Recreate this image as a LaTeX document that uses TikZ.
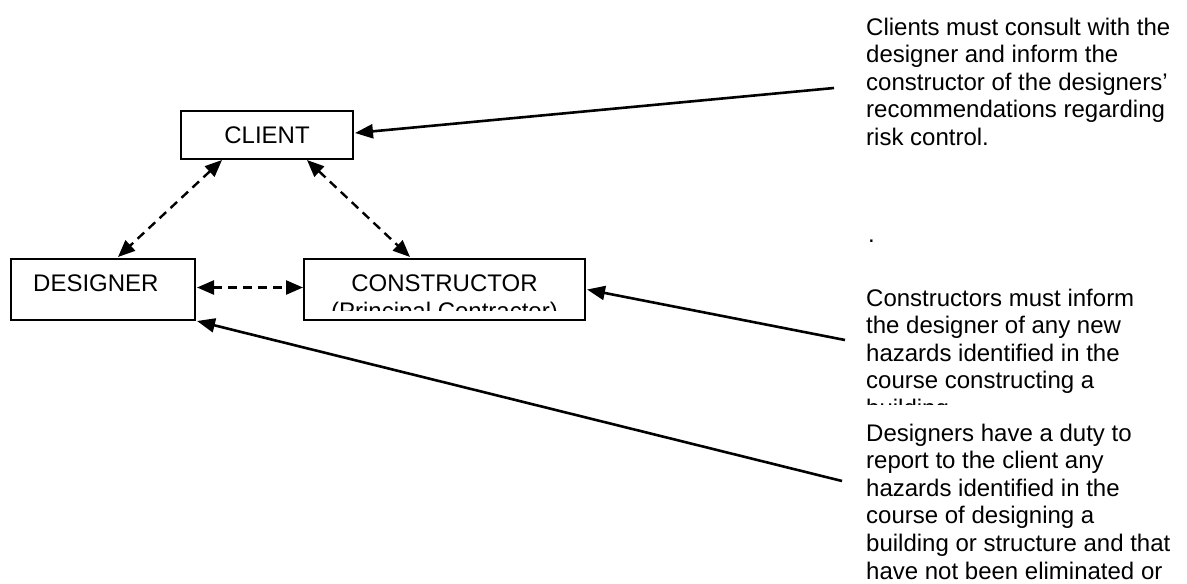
\documentclass[tikz,border=0pt]{standalone}
\usepackage{fontspec}
\setmainfont{Liberation Sans}
\usetikzlibrary{arrows.meta}

\begin{document}
\begin{tikzpicture}[x=1pt,y=-1pt,
  role/.style={draw,line width=2pt,inner sep=0pt,outer sep=0pt,font=\fontsize{24}{27.6}\selectfont},
  link/.style={line width=2.4pt,dash pattern=on 9pt off 6pt,{Triangle[length=17pt,width=14pt]}-{Triangle[length=17pt,width=14pt]}},
  duty/.style={line width=2.6pt,-{Triangle[length=18pt,width=14pt]}},
  note/.style={anchor=base west,align=left,inner sep=0pt,font=\fontsize{24}{27.6}\selectfont}]
\useasboundingbox (0,0) rectangle (1187,584);
% the three parties
\node[role,minimum width=172pt,minimum height=48pt] (client) at (267,135) {CLIENT};
\node[role,minimum width=184pt,minimum height=61pt] (designer) at (103,289.5) {};
\node[role,minimum width=281pt,minimum height=61pt] (constructor) at (444.5,289.5) {};
\node[note] (designertext) at (33,291.6) {DESIGNER};
\begin{scope}
\clip (305,260) rectangle (584,310);
\node[note,anchor=base,align=center] (constructortext) at (444.5,319.2) {CONSTRUCTOR\\(Principal Contractor)};
\end{scope}
% duties
\node[note] (clientnote) at (866,145.4) {Clients must consult with the\\designer and inform the\\constructor of the designers'\\recommendations regarding\\risk control.};
\node[note] (dotnote) at (868,242) {.};
\begin{scope}
\clip (850,250) rectangle (1187,404);
\node[note] (constructornote) at (866,416.4) {Constructors must inform\\the designer of any new\\hazards identified in the\\course constructing a\\building};
\end{scope}
\node[note] (designernote) at (866,579) {Designers have a duty to\\report to the client any\\hazards identified in the\\course of designing a\\building or structure and that\\have not been eliminated or};
\coordinate (clientend) at (834,88);
\coordinate (constructorend) at (845,340);
\coordinate (designerend) at (842,481);
\draw[duty] (clientend) -- ([xshift=2pt,yshift=2pt]client.east);
\draw[duty] (constructorend) -- ([xshift=2pt]constructor.east);
\draw[duty] (designerend) -- ([xshift=2pt,yshift=-1pt]designer.south east);
% communication between parties
\draw[link] ([xshift=41pt,yshift=-1pt]client.south west) -- ([xshift=15pt,yshift=2pt]designer.north);
\draw[link] ([xshift=-46pt,yshift=-1pt]client.south east) -- ([xshift=-34.5pt,yshift=2pt]constructor.north);
\draw[link] ([xshift=2pt,yshift=2pt]designer.east) -- ([xshift=-1pt,yshift=2pt]constructor.west);
\end{tikzpicture}
\end{document}
